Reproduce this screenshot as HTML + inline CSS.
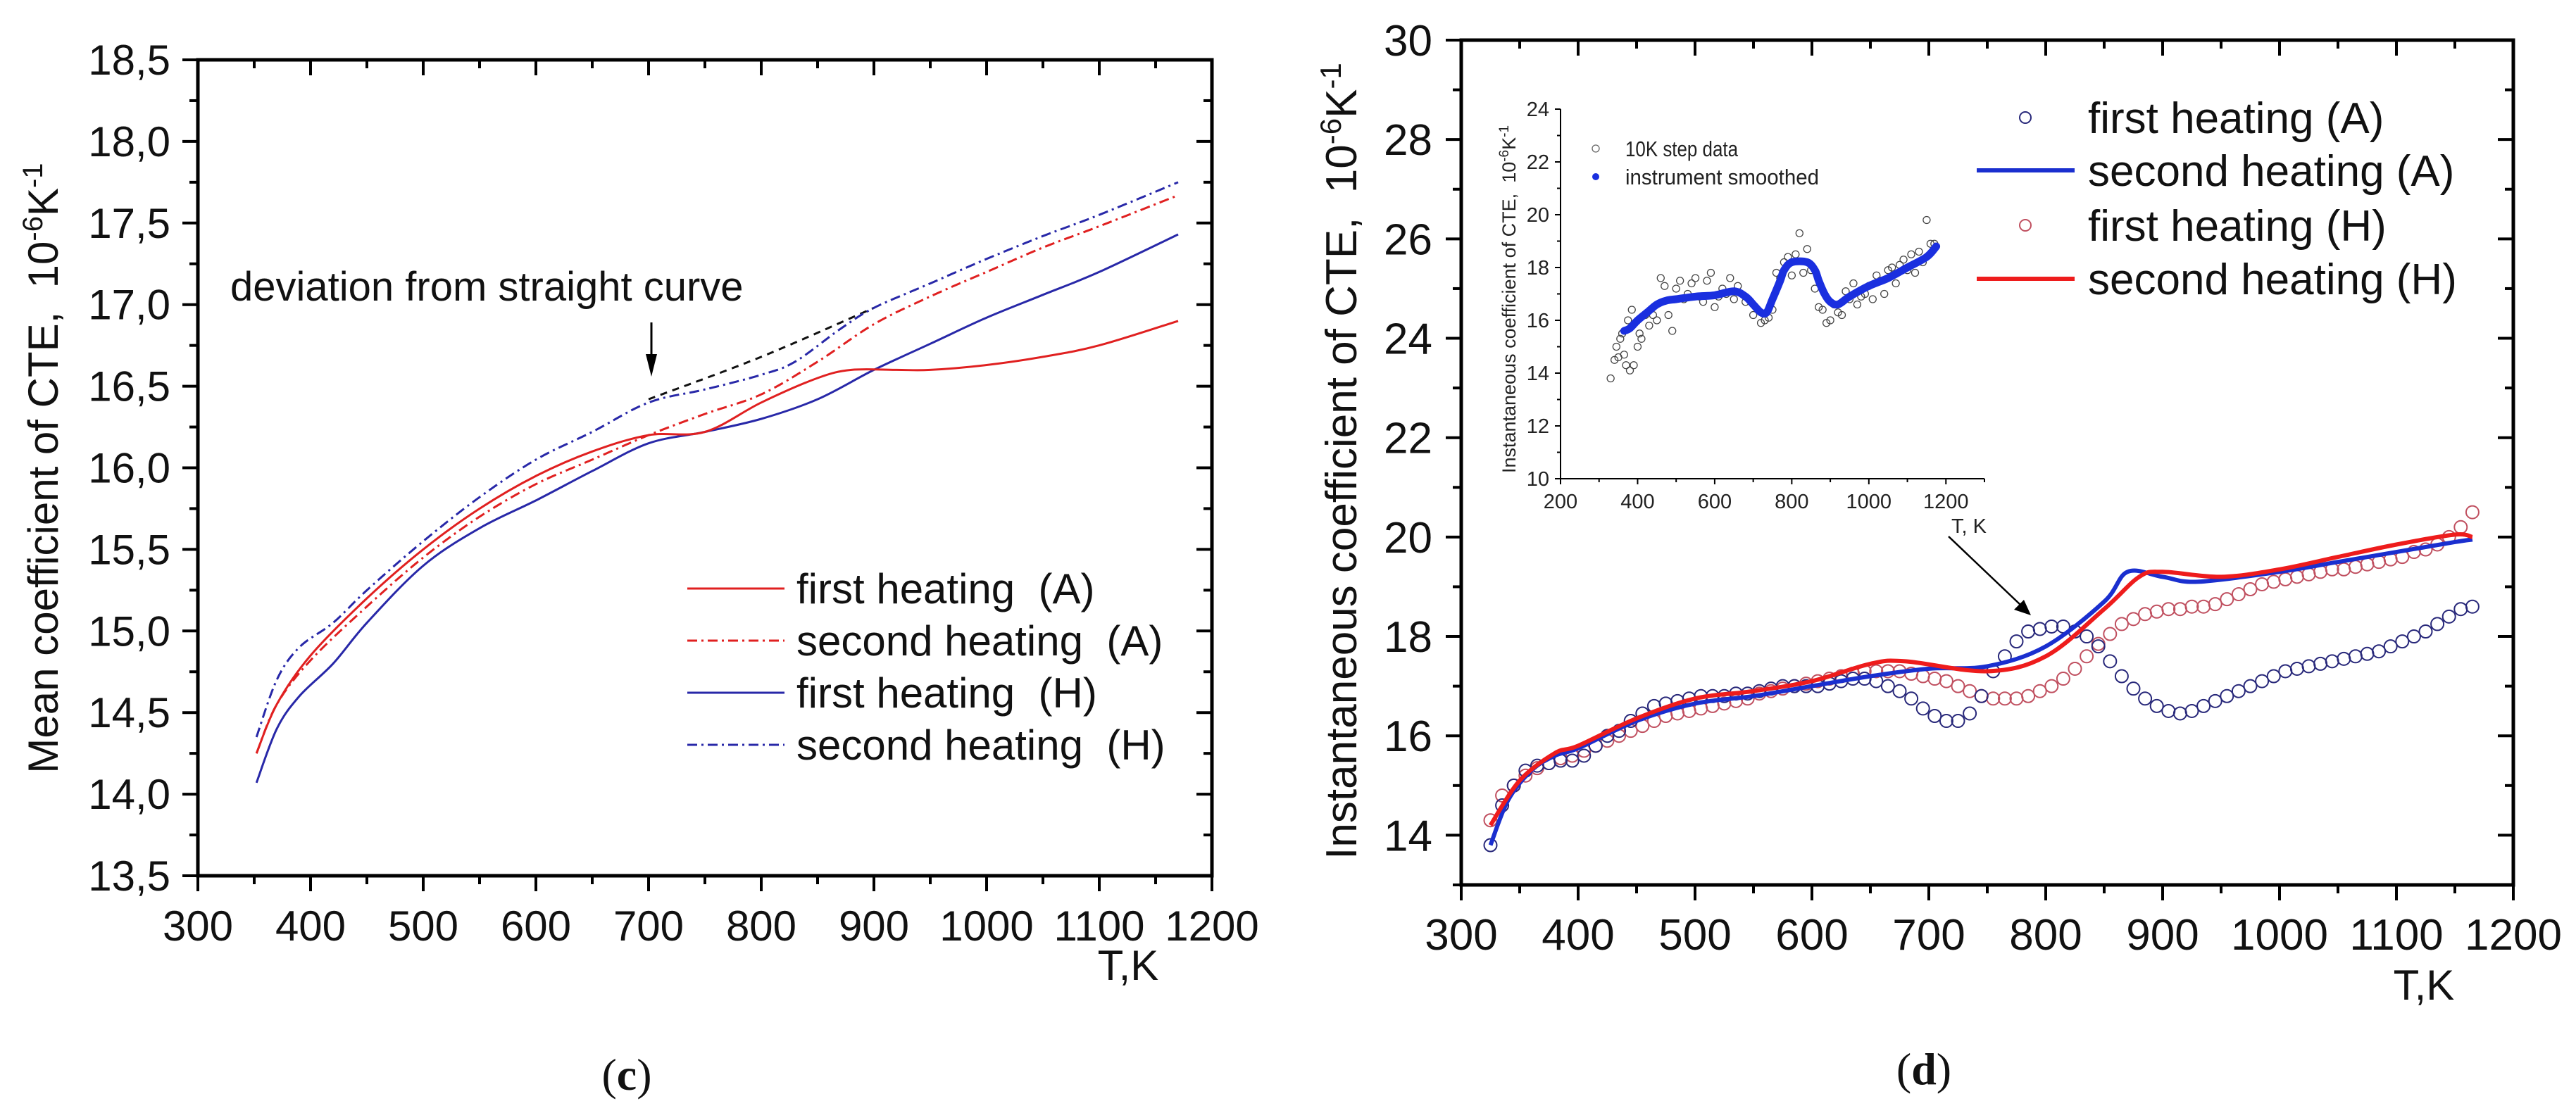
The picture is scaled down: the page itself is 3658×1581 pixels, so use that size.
<!DOCTYPE html>
<html><head><meta charset="utf-8"><style>
html,body{margin:0;padding:0;background:#fff;}
svg{display:block;font-family:"Liberation Sans",sans-serif;}
</style></head><body>
<svg id="fig" width="3658" height="1581" viewBox="0 0 3658 1581" xmlns="http://www.w3.org/2000/svg">
<rect x="0" y="0" width="3658" height="1581" fill="#fff"/>
<g id="cg"></g>
<g id="dg"></g>
</svg>
<script>
// ---------- Chart (c) data ----------
const cFirstA_T = [352,370,400,450,500,550,600,650,700,750,800,850,880,920,950,1000,1050,1100,1170];
const cFirstA_V = [14.25,14.55,14.85,15.2,15.5,15.75,15.95,16.1,16.2,16.22,16.4,16.55,16.6,16.6,16.6,16.63,16.68,16.75,16.9];
const cSecondA_T = [352,370,400,450,500,550,600,650,700,750,800,850,900,950,1000,1050,1100,1170];
const cSecondA_V = [14.25,14.55,14.82,15.15,15.45,15.7,15.9,16.05,16.2,16.33,16.45,16.65,16.88,17.05,17.2,17.35,17.48,17.67];
const cFirstH_T = [352,370,390,420,450,500,550,600,650,700,750,800,850,900,950,1000,1050,1100,1170];
const cFirstH_V = [14.07,14.4,14.6,14.8,15.05,15.4,15.63,15.8,15.98,16.15,16.22,16.3,16.42,16.6,16.76,16.92,17.06,17.2,17.43];
const cSecondH_T = [352,370,390,420,450,500,550,600,650,700,750,800,830,870,900,950,1000,1050,1100,1170];
const cSecondH_V = [14.35,14.7,14.9,15.05,15.25,15.55,15.82,16.05,16.22,16.4,16.48,16.57,16.65,16.85,16.98,17.13,17.28,17.42,17.55,17.75];
const cStraight_T = [700,800,900];
const cStraight_V = [16.42,16.68,16.98];
const cXTicks = [300,400,500,600,700,800,900,1000,1100,1200];
const cYTicks = [13.5,14.0,14.5,15.0,15.5,16.0,16.5,17.0,17.5,18.0,18.5];

// ---------- Chart (d) data ----------
const dSecondA_T = [325,340,360,380,400,450,500,550,600,650,700,750,800,850,870,900,930,1000,1050,1100,1150,1165];
const dSecondA_V = [13.8,14.7,15.3,15.6,15.75,16.3,16.65,16.8,17.0,17.2,17.35,17.4,17.8,18.7,19.3,19.2,19.1,19.3,19.5,19.7,19.9,19.95];
const dSecondH_T = [325,350,380,400,450,500,550,600,650,680,750,800,850,880,900,950,1000,1050,1100,1150,1165];
const dSecondH_V = [14.2,15.1,15.65,15.8,16.35,16.75,16.9,17.1,17.45,17.5,17.3,17.6,18.55,19.2,19.3,19.2,19.35,19.6,19.85,20.05,20.0];
const dFirstA_T = [325,335,345,355,365,375,385,395,405,415,425,435,445,455,465,475,485,495,505,515,525,535,545,555,565,575,585,595,605,615,625,635,645,655,665,675,685,695,705,715,725,735,745,755,765,775,785,795,805,815,825,835,845,855,865,875,885,895,905,915,925,935,945,955,965,975,985,995,1005,1015,1025,1035,1045,1055,1065,1075,1085,1095,1105,1115,1125,1135,1145,1155,1165];
const dFirstA_V = [13.8,14.6,15.0,15.3,15.4,15.45,15.5,15.5,15.6,15.8,16.0,16.1,16.3,16.45,16.6,16.65,16.7,16.75,16.8,16.8,16.8,16.85,16.85,16.9,16.95,17.0,17.0,17.0,17.0,17.05,17.1,17.15,17.15,17.1,17.0,16.9,16.75,16.55,16.4,16.3,16.3,16.45,16.8,17.3,17.6,17.9,18.1,18.15,18.2,18.2,18.1,18.0,17.8,17.5,17.2,16.95,16.75,16.6,16.5,16.45,16.5,16.6,16.7,16.8,16.9,17.0,17.1,17.2,17.3,17.35,17.4,17.45,17.5,17.55,17.6,17.65,17.7,17.8,17.9,18.0,18.1,18.25,18.4,18.55,18.6];
const dFirstH_T = dFirstA_T;
const dFirstH_V = [14.3,14.8,15.0,15.2,15.35,15.45,15.55,15.6,15.7,15.8,15.9,16.0,16.1,16.2,16.3,16.4,16.45,16.5,16.55,16.6,16.65,16.7,16.75,16.85,16.9,16.95,17.0,17.05,17.1,17.15,17.2,17.25,17.3,17.3,17.3,17.3,17.25,17.2,17.15,17.1,17.0,16.9,16.8,16.75,16.75,16.75,16.8,16.9,17.0,17.15,17.35,17.6,17.85,18.05,18.25,18.35,18.45,18.5,18.55,18.55,18.6,18.6,18.65,18.75,18.85,18.95,19.05,19.1,19.15,19.2,19.25,19.3,19.35,19.35,19.4,19.45,19.5,19.55,19.6,19.7,19.75,19.85,20.0,20.2,20.5];
const dXTicks = [300,400,500,600,700,800,900,1000,1100,1200];
const dYTicks = [14,16,18,20,22,24,26,28,30];

// ---------- Inset data ----------
const iSmooth_T = [365,380,400,425,450,475,500,550,600,650,680,700,720,735,750,770,780,800,840,860,870,885,900,920,950,1000,1050,1100,1150,1175];
const iSmooth_V = [15.6,15.7,16.0,16.3,16.6,16.75,16.8,16.9,16.95,17.1,16.9,16.6,16.3,16.3,16.8,17.5,17.9,18.2,18.2,17.9,17.5,17.0,16.7,16.6,16.9,17.3,17.6,18.0,18.4,18.8];
const iScatter_T = [330,340,345,350,355,360,365,370,375,380,385,390,400,405,410,420,430,440,450,460,470,480,490,500,510,520,530,540,550,560,570,580,590,600,610,620,630,640,650,660,680,700,720,730,740,750,760,770,780,790,800,810,820,830,840,850,860,870,880,890,900,910,920,930,940,950,960,970,980,990,1000,1010,1020,1030,1040,1050,1060,1070,1080,1090,1100,1110,1120,1130,1140,1150,1160,1170];
const iScatter_V = [13.8,14.5,15.0,14.6,15.3,15.5,14.7,14.3,16.0,14.1,16.4,14.3,15.0,15.5,15.3,16.2,15.8,16.2,16.0,17.6,17.3,16.2,15.6,17.2,17.5,16.8,17.0,17.4,17.6,16.9,16.7,17.5,17.8,16.5,16.9,17.2,17.0,17.6,16.8,17.3,16.7,16.2,15.9,16.0,16.1,16.4,17.8,17.6,18.2,18.4,17.7,18.5,19.3,17.8,18.7,17.9,17.2,16.5,16.4,15.9,16.0,16.6,16.3,16.2,17.1,16.8,17.4,16.6,16.9,17.0,17.3,16.8,17.7,17.5,17.0,17.9,18.0,17.4,18.1,18.3,17.9,18.5,17.8,18.6,18.2,19.8,18.9,18.9];
const iXTicks = [200,400,600,800,1000,1200];
const iYTicks = [10,12,14,16,18,20,22,24];

const NS = "http://www.w3.org/2000/svg";
function mk(parent, tag, attrs, text){
  const e = document.createElementNS(NS, tag);
  for (const k in attrs) e.setAttribute(k, attrs[k]);
  if (text !== undefined) e.textContent = text;
  parent.appendChild(e);
  return e;
}
function lin(d0,d1,r0,r1){ return v => r0 + (v-d0)*(r1-r0)/(d1-d0); }
// smooth path (Catmull-Rom to Bezier) through the data points
function pathD(xs, ys, X, Y){
  const P = xs.map((t,i)=>[X(t),Y(ys[i])]);
  let d = 'M'+P[0][0].toFixed(1)+' '+P[0][1].toFixed(1);
  for (let i=0;i<P.length-1;i++){
    const p0=P[Math.max(0,i-1)], p1=P[i], p2=P[i+1], p3=P[Math.min(P.length-1,i+2)];
    const c1=[p1[0]+(p2[0]-p0[0])/6, p1[1]+(p2[1]-p0[1])/6];
    const c2=[p2[0]-(p3[0]-p1[0])/6, p2[1]-(p3[1]-p1[1])/6];
    d += ' C'+c1[0].toFixed(1)+' '+c1[1].toFixed(1)+' '+c2[0].toFixed(1)+' '+c2[1].toFixed(1)+' '+p2[0].toFixed(1)+' '+p2[1].toFixed(1);
  }
  return d;
}

// ================= Chart (c) =================
const cg = document.getElementById('cg');
const cX = lin(300,1200,281,1721), cY = lin(13.5,18.5,1244,85);
for (let v=300; v<=1200; v+=50){
  const major = (v%100===0);
  const t = mk(cg,'line',{x1:cX(v),x2:cX(v),y1:1244,y2:1244+(major?22:12),stroke:'#000','stroke-width':4});
   
  const t2 = mk(cg,'line',{x1:cX(v),x2:cX(v),y1:85,y2:85+(major?22:12),stroke:'#000','stroke-width':4});
   
}
for (let v=13.5; v<=18.51; v+=0.25){
  const major = Math.abs(v*2-Math.round(v*2))<1e-6;
  const t = mk(cg,'line',{x1:281,x2:281-(major?22:12),y1:cY(v),y2:cY(v),stroke:'#000','stroke-width':4});
   
  const t2 = mk(cg,'line',{x1:1721,x2:1721-(major?22:12),y1:cY(v),y2:cY(v),stroke:'#000','stroke-width':4});
   
}
const cFrame = mk(cg,'rect',{x:281,y:85,width:1440,height:1159,fill:'none',stroke:'#000','stroke-width':5});
 
cXTicks.forEach(v=>{
  const t = mk(cg,'text',{x:cX(v),y:1336,'font-size':60,'text-anchor':'middle',fill:'#111'},String(v));
   
});
cYTicks.forEach(v=>{
  const t = mk(cg,'text',{x:242,y:cY(v)+21,'font-size':60,'text-anchor':'end',fill:'#111'},v.toFixed(1).replace('.',','));
   
});
{
  const t = mk(cg,'text',{x:0,y:0,'font-size':60,'text-anchor':'middle',fill:'#111',transform:'translate(82,665) rotate(-90)'});
   
  t.innerHTML = 'Mean coefficient of CTE,\u00a0 10<tspan dy="-22" font-size="40">-6</tspan><tspan dy="22">K</tspan><tspan dy="-22" font-size="40">-1</tspan>';
  const xt = mk(cg,'text',{x:1602,y:1392,'font-size':60,'text-anchor':'middle',fill:'#111'},'T,K');
   
  const lab = mk(cg,'text',{x:890,y:1548,'font-size':64,'text-anchor':'middle',fill:'#111','font-family':'Liberation Serif, serif'});
   
  lab.innerHTML = '(<tspan font-weight="bold">c</tspan>)';
  const an = mk(cg,'text',{x:327,y:427,'font-size':58,fill:'#111'},'deviation from straight curve');
   
  const ar = mk(cg,'line',{x1:925,y1:458,x2:925,y2:505,stroke:'#000','stroke-width':3});
   
  const ah = mk(cg,'polygon',{points:'917,503 933,503 925,535',fill:'#000'});
   
}
const cSeries = [
  {T:cStraight_T,V:cStraight_V,c:'#111',d:'10 8',n:'straight-reference-line'},
  {T:cFirstH_T,V:cFirstH_V,c:'#2828a8',d:'',n:'line-first-heating-h'},
  {T:cFirstA_T,V:cFirstA_V,c:'#e02020',d:'',n:'line-first-heating-a'},
  {T:cSecondA_T,V:cSecondA_V,c:'#e02020',d:'14 6 3 6',n:'line-second-heating-a'},
  {T:cSecondH_T,V:cSecondH_V,c:'#2828a8',d:'14 6 3 6',n:'line-second-heating-h'}
];
cSeries.forEach(s=>{
  const p = mk(cg,'path',{d:pathD(s.T,s.V,cX,cY),fill:'none',stroke:s.c,'stroke-width':3,'stroke-dasharray':s.d,'stroke-linejoin':'round'});
   
});
const cLeg = [
  ['first heating\u00a0 (A)','#e02020',''],['second heating\u00a0 (A)','#e02020','14 6 3 6'],
  ['first heating\u00a0 (H)','#2828a8',''],['second heating\u00a0 (H)','#2828a8','14 6 3 6']];
cLeg.forEach((l,i)=>{
  const y = 836 + i*74;
  const g = mk(cg,'g',{});
   
  mk(g,'line',{x1:976,x2:1114,y1:y,y2:y,stroke:l[1],'stroke-width':3,'stroke-dasharray':l[2]});
  mk(g,'text',{x:1131,y:y+21,'font-size':60,fill:'#111'},l[0]);
});

// ================= Chart (d) =================
const dg = document.getElementById('dg');
const dX = lin(300,1200,2075,3569), dY = lin(13,30,1257,57);
for (let v=300; v<=1200; v+=50){
  const major = (v%100===0);
  const t = mk(dg,'line',{x1:dX(v),x2:dX(v),y1:1257,y2:1257+(major?22:12),stroke:'#000','stroke-width':4});
   
  const t2 = mk(dg,'line',{x1:dX(v),x2:dX(v),y1:57,y2:57+(major?22:12),stroke:'#000','stroke-width':4});
   
}
for (let v=13; v<=30; v+=1){
  const major = (v%2===0);
  const t = mk(dg,'line',{x1:2075,x2:2075-(major?22:12),y1:dY(v),y2:dY(v),stroke:'#000','stroke-width':4});
   
  const t2 = mk(dg,'line',{x1:3569,x2:3569-(major?22:12),y1:dY(v),y2:dY(v),stroke:'#000','stroke-width':4});
   
}
const dFrame = mk(dg,'rect',{x:2075,y:57,width:1494,height:1200,fill:'none',stroke:'#000','stroke-width':5});
 
dXTicks.forEach(v=>{
  const t = mk(dg,'text',{x:dX(v),y:1349,'font-size':62,'text-anchor':'middle',fill:'#111'},String(v));
   
});
dYTicks.forEach(v=>{
  const t = mk(dg,'text',{x:2034,y:dY(v)+22,'font-size':62,'text-anchor':'end',fill:'#111'},String(v));
   
});
{
  const t = mk(dg,'text',{x:0,y:0,'font-size':62,'text-anchor':'middle',fill:'#111',transform:'translate(1926,655) rotate(-90)'});
   
  t.innerHTML = 'Instantaneous coefficient of CTE,\u00a0 10<tspan dy="-22" font-size="42">-6</tspan><tspan dy="22">K</tspan><tspan dy="-22" font-size="42">-1</tspan>';
  const xt = mk(dg,'text',{x:3442,y:1420,'font-size':60,'text-anchor':'middle',fill:'#111'},'T,K');
   
  const lab = mk(dg,'text',{x:2732,y:1540,'font-size':64,'text-anchor':'middle',fill:'#111','font-family':'Liberation Serif, serif'});
   
  lab.innerHTML = '(<tspan font-weight="bold">d</tspan>)';
  const ar = mk(dg,'line',{x1:2767,y1:762,x2:2870,y2:860,stroke:'#000','stroke-width':2.5});
   
  const ah = mk(dg,'polygon',{points:'2884,874 2860,866 2874,852',fill:'#000'});
   
}
dFirstH_T.forEach((t,i)=>{
  const c = mk(dg,'circle',{cx:dX(t),cy:dY(dFirstH_V[i]),r:9,fill:'none',stroke:'#c05060','stroke-width':2});
   
});
dFirstA_T.forEach((t,i)=>{
  const c = mk(dg,'circle',{cx:dX(t),cy:dY(dFirstA_V[i]),r:9,fill:'none',stroke:'#28287a','stroke-width':2});
   
});
{
  const p1 = mk(dg,'path',{d:pathD(dSecondA_T,dSecondA_V,dX,dY),fill:'none',stroke:'#1a2fcf','stroke-width':6,'stroke-linejoin':'round'});
   
  const p2 = mk(dg,'path',{d:pathD(dSecondH_T,dSecondH_V,dX,dY),fill:'none',stroke:'#ee1c1c','stroke-width':6,'stroke-linejoin':'round'});
   
}
const dLeg = [['first heating (A)','circle','#28287a'],['second heating (A)','line','#1a2fcf'],['first heating (H)','circle','#c05060'],['second heating (H)','line','#ee1c1c']];
dLeg.forEach((l,i)=>{
  const y = [167,242,320,396][i];
  const g = mk(dg,'g',{});
   
  if (l[1]==='circle') mk(g,'circle',{cx:2876,cy:y,r:8,fill:'none',stroke:l[2],'stroke-width':2});
  else mk(g,'line',{x1:2807,x2:2946,y1:y,y2:y,stroke:l[2],'stroke-width':6});
  mk(g,'text',{x:2965,y:y+22,'font-size':62,fill:'#111'},l[0]);
});

// ================= Inset =================
const ig = mk(dg,'g',{});
 
const iX = lin(200,1300,2216,2818), iY = lin(10,24,680,155);
mk(ig,'line',{x1:2216,x2:2216,y1:155,y2:680,stroke:'#000','stroke-width':2});
mk(ig,'line',{x1:2216,x2:2818,y1:680,y2:680,stroke:'#000','stroke-width':2});
for (let v=200; v<=1300; v+=100){
  const major = (v%200===0);
  const t = mk(ig,'line',{x1:iX(v),x2:iX(v),y1:680,y2:680+(major?8:5),stroke:'#000','stroke-width':2});
   
}
for (let v=10; v<=24; v+=1){
  const major = (v%2===0);
  const t = mk(ig,'line',{x1:2216,x2:2216-(major?8:5),y1:iY(v),y2:iY(v),stroke:'#000','stroke-width':2});
   
}
iXTicks.forEach(v=>{
  const t = mk(ig,'text',{x:iX(v),y:722,'font-size':29,'text-anchor':'middle',fill:'#222'},String(v));
   
});
iYTicks.forEach(v=>{
  const t = mk(ig,'text',{x:2200,y:iY(v)+10,'font-size':29,'text-anchor':'end',fill:'#222'},String(v));
   
});
{
  const t = mk(ig,'text',{x:0,y:0,'font-size':27,'text-anchor':'middle',fill:'#222',transform:'translate(2152,425) rotate(-90)'});
   
  t.innerHTML = 'Instantaneous coefficient of CTE,\u00a0 10<tspan dy="-10" font-size="19">-6</tspan><tspan dy="10">K</tspan><tspan dy="-10" font-size="19">-1</tspan>';
  const xt = mk(ig,'text',{x:2796,y:757,'font-size':29,'text-anchor':'middle',fill:'#222'},'T, K');
   
}
iScatter_T.forEach((t,i)=>{
  const c = mk(ig,'circle',{cx:iX(t),cy:iY(iScatter_V[i]),r:5,fill:'none',stroke:'#444','stroke-width':1.3});
   
});
{
  const p = mk(ig,'path',{d:pathD(iSmooth_T,iSmooth_V,iX,iY),fill:'none',stroke:'#1a2fdf','stroke-width':11,'stroke-linejoin':'round','stroke-linecap':'round'});
   
}
{
  const g1 = mk(ig,'g',{});
   
  mk(g1,'circle',{cx:2266,cy:211,r:5,fill:'none',stroke:'#666','stroke-width':1.3});
  mk(g1,'text',{x:2308,y:222,'font-size':31,fill:'#222',textLength:160,lengthAdjust:'spacingAndGlyphs'},'10K step data');
  const g2 = mk(ig,'g',{});
   
  mk(g2,'circle',{cx:2266,cy:251,r:5,fill:'#1a2fdf'});
  mk(g2,'text',{x:2308,y:262,'font-size':31,fill:'#222',textLength:275,lengthAdjust:'spacingAndGlyphs'},'instrument smoothed');
}
</script>
</body></html>
